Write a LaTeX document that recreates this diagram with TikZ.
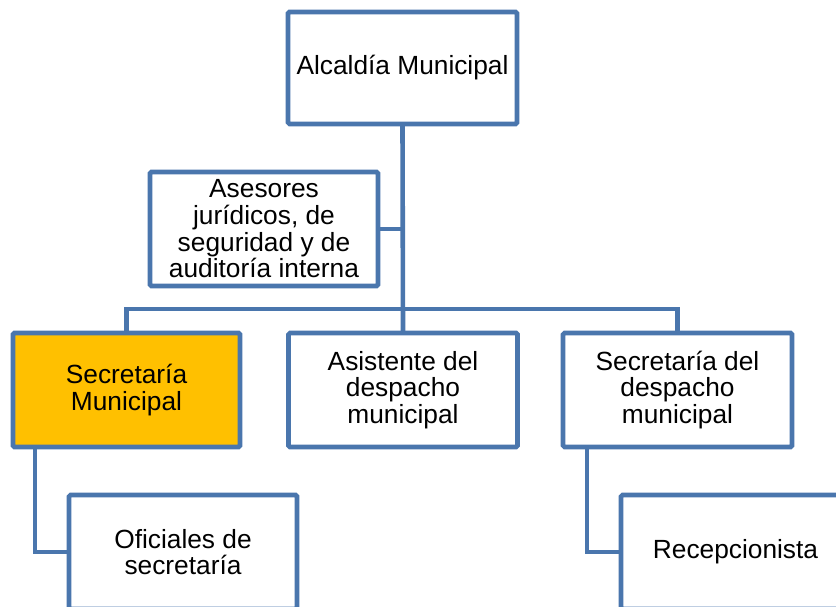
\documentclass[tikz,border=0pt]{standalone}
\usepackage{fontspec}
\setmainfont{Liberation Sans}
\definecolor{lineblue}{HTML}{4A76AD}
\definecolor{gold}{HTML}{FFC000}
\begin{document}
\begin{tikzpicture}[x=1pt,y=-1pt,
  box/.style={draw=lineblue, line width=4.6pt, rounded corners=1.5pt, fill=white,
    minimum width=229pt, minimum height=114pt, inner sep=0pt, outer sep=0pt,
    align=center, text=black, font=\fontsize{26.3}{26.7}\selectfont},
  conn/.style={draw=lineblue, line width=4.6pt}]
\useasboundingbox (0,0) rectangle (836,607);
\clip (0,0) rectangle (836,607);
\fill[white] (0,0) rectangle (836,607);
\node[box, minimum height=112pt] (alc) at (402.5,68) {Alcaldía Municipal};
\node[box, minimum width=228pt] (ases) at (264,229) {Asesores\\jurídicos, de\\seguridad y de\\auditoría interna};
\node[box, fill=gold, minimum width=227pt] (secm) at (126.5,390) {Secretaría\\Municipal};
\node[box] (asis) at (403,390) {Asistente del\\despacho\\municipal};
\node[box] (secd) at (677.5,390) {Secretaría del\\despacho\\municipal};
\node[box, minimum width=228pt] (ofi) at (183,552) {Oficiales de\\secretaría};
\node[box] (rec) at (735.5,552) {Recepcionista};
\coordinate (j) at (402.5,309);
\begin{scope}[on background layer/.style={}]
\end{scope}
\draw[conn] (alc.south) -- (asis.north);
\draw[conn] (ases.east) -- (ases.east -| alc.south);
\draw[conn] (secm.north) |- (j) -| (secd.north);
\draw[conn] ([xshift=22pt]secm.south west) |- (ofi.west);
\draw[conn] ([xshift=24pt]secd.south west) |- (rec.west);
\end{tikzpicture}
\end{document}
